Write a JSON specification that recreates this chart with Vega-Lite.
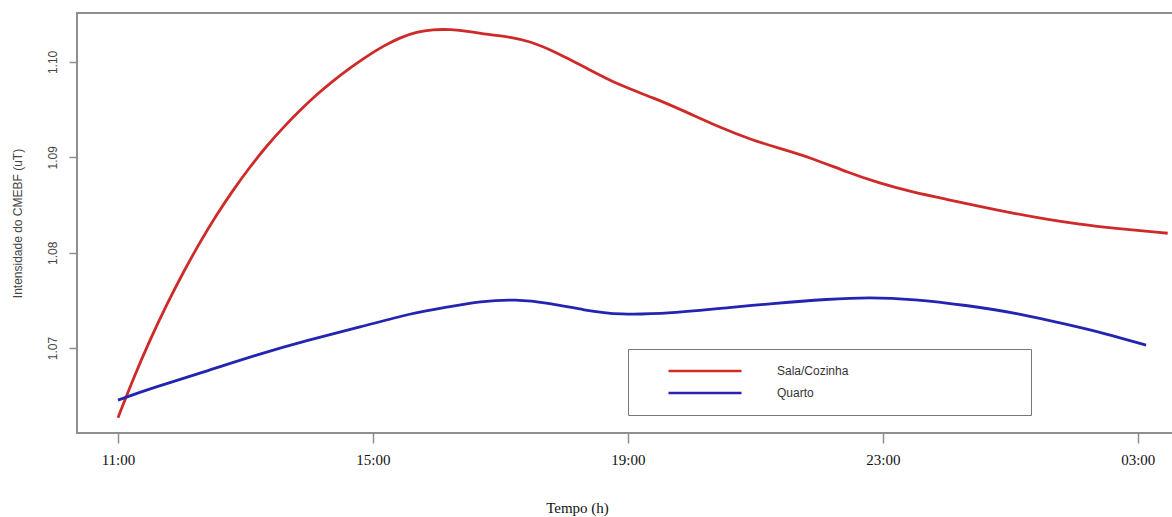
{
  "$schema": "https://vega.github.io/schema/vega-lite/v6.json",
  "width": 1099,
  "height": 420,
  "autosize": {"type": "none"},
  "padding": {"left": 77, "top": 13, "right": 0, "bottom": 84},
  "background": "white",
  "config": {
    "view": {"stroke": "#8f8f8f", "strokeWidth": 2},
    "axis": {"grid": false, "domain": false, "tickColor": "#8f8f8f", "tickWidth": 1.5}
  },
  "data": {
    "values": [
      {"hora": 11.0, "valor": 1.0627, "local": "Sala/Cozinha"},
      {"hora": 11.23, "valor": 1.06665, "local": "Sala/Cozinha"},
      {"hora": 11.5, "valor": 1.07085, "local": "Sala/Cozinha"},
      {"hora": 11.77, "valor": 1.07465, "local": "Sala/Cozinha"},
      {"hora": 12.02, "valor": 1.0779, "local": "Sala/Cozinha"},
      {"hora": 12.29, "valor": 1.08115, "local": "Sala/Cozinha"},
      {"hora": 12.55, "valor": 1.084, "local": "Sala/Cozinha"},
      {"hora": 12.8, "valor": 1.08652, "local": "Sala/Cozinha"},
      {"hora": 13.07, "valor": 1.089, "local": "Sala/Cozinha"},
      {"hora": 13.34, "valor": 1.09125, "local": "Sala/Cozinha"},
      {"hora": 13.59, "valor": 1.09312, "local": "Sala/Cozinha"},
      {"hora": 13.86, "valor": 1.09497, "local": "Sala/Cozinha"},
      {"hora": 14.12, "valor": 1.0966, "local": "Sala/Cozinha"},
      {"hora": 14.37, "valor": 1.098, "local": "Sala/Cozinha"},
      {"hora": 14.64, "valor": 1.09937, "local": "Sala/Cozinha"},
      {"hora": 14.91, "valor": 1.10062, "local": "Sala/Cozinha"},
      {"hora": 15.16, "valor": 1.10165, "local": "Sala/Cozinha"},
      {"hora": 15.42, "valor": 1.10255, "local": "Sala/Cozinha"},
      {"hora": 15.69, "valor": 1.10315, "local": "Sala/Cozinha"},
      {"hora": 15.94, "valor": 1.1034, "local": "Sala/Cozinha"},
      {"hora": 16.21, "valor": 1.10342, "local": "Sala/Cozinha"},
      {"hora": 16.52, "valor": 1.10319, "local": "Sala/Cozinha"},
      {"hora": 16.79, "valor": 1.10288, "local": "Sala/Cozinha"},
      {"hora": 17.2, "valor": 1.10257, "local": "Sala/Cozinha"},
      {"hora": 17.46, "valor": 1.10215, "local": "Sala/Cozinha"},
      {"hora": 17.82, "valor": 1.1012, "local": "Sala/Cozinha"},
      {"hora": 18.36, "valor": 1.09932, "local": "Sala/Cozinha"},
      {"hora": 18.87, "valor": 1.09754, "local": "Sala/Cozinha"},
      {"hora": 19.39, "valor": 1.09628, "local": "Sala/Cozinha"},
      {"hora": 19.93, "valor": 1.09471, "local": "Sala/Cozinha"},
      {"hora": 20.44, "valor": 1.09314, "local": "Sala/Cozinha"},
      {"hora": 20.96, "valor": 1.09178, "local": "Sala/Cozinha"},
      {"hora": 21.38, "valor": 1.09095, "local": "Sala/Cozinha"},
      {"hora": 21.9, "valor": 1.0899, "local": "Sala/Cozinha"},
      {"hora": 22.44, "valor": 1.08843, "local": "Sala/Cozinha"},
      {"hora": 22.95, "valor": 1.08728, "local": "Sala/Cozinha"},
      {"hora": 23.47, "valor": 1.08634, "local": "Sala/Cozinha"},
      {"hora": 24.0, "valor": 1.0856, "local": "Sala/Cozinha"},
      {"hora": 24.52, "valor": 1.08487, "local": "Sala/Cozinha"},
      {"hora": 25.04, "valor": 1.08414, "local": "Sala/Cozinha"},
      {"hora": 25.57, "valor": 1.08351, "local": "Sala/Cozinha"},
      {"hora": 26.09, "valor": 1.08298, "local": "Sala/Cozinha"},
      {"hora": 26.61, "valor": 1.08257, "local": "Sala/Cozinha"},
      {"hora": 27.47, "valor": 1.08204, "local": "Sala/Cozinha"},
      {"hora": 11.0, "valor": 1.06455, "local": "Quarto"},
      {"hora": 11.53, "valor": 1.06581, "local": "Quarto"},
      {"hora": 12.35, "valor": 1.06749, "local": "Quarto"},
      {"hora": 13.16, "valor": 1.06927, "local": "Quarto"},
      {"hora": 13.98, "valor": 1.07084, "local": "Quarto"},
      {"hora": 14.8, "valor": 1.0722, "local": "Quarto"},
      {"hora": 15.6, "valor": 1.07366, "local": "Quarto"},
      {"hora": 16.15, "valor": 1.07429, "local": "Quarto"},
      {"hora": 16.69, "valor": 1.07492, "local": "Quarto"},
      {"hora": 17.23, "valor": 1.07513, "local": "Quarto"},
      {"hora": 17.78, "valor": 1.07471, "local": "Quarto"},
      {"hora": 18.31, "valor": 1.07398, "local": "Quarto"},
      {"hora": 18.86, "valor": 1.07346, "local": "Quarto"},
      {"hora": 19.69, "valor": 1.07366, "local": "Quarto"},
      {"hora": 20.51, "valor": 1.07419, "local": "Quarto"},
      {"hora": 21.32, "valor": 1.07471, "local": "Quarto"},
      {"hora": 22.14, "valor": 1.07513, "local": "Quarto"},
      {"hora": 22.78, "valor": 1.07534, "local": "Quarto"},
      {"hora": 23.49, "valor": 1.07513, "local": "Quarto"},
      {"hora": 24.3, "valor": 1.0745, "local": "Quarto"},
      {"hora": 25.12, "valor": 1.07366, "local": "Quarto"},
      {"hora": 25.93, "valor": 1.07241, "local": "Quarto"},
      {"hora": 26.47, "valor": 1.07157, "local": "Quarto"},
      {"hora": 27.13, "valor": 1.07031, "local": "Quarto"}
    ]
  },
  "mark": {"type": "line", "interpolate": "basis", "strokeWidth": 2.8, "clip": true},
  "encoding": {
    "x": {
      "field": "hora",
      "type": "quantitative",
      "scale": {"domain": [10.357, 27.6], "nice": false, "zero": false},
      "axis": {
        "values": [11, 15, 19, 23, 27],
        "labelExpr": "pad(datum.value % 24, 2, '0', 'left') + ':00'",
        "tickSize": 10,
        "labelPadding": 16,
        "labelFont": "Liberation Serif",
        "labelFontSize": 15,
        "labelColor": "#111",
        "labelBaseline": "middle",
        "title": "Tempo (h)",
        "titleFont": "Liberation Serif",
        "titleFontSize": 15,
        "titleFontWeight": "normal",
        "titleColor": "#111",
        "titleX": 500,
        "titleY": 74,
        "titleAlign": "center",
        "titleBaseline": "middle"
      }
    },
    "y": {
      "field": "valor",
      "type": "quantitative",
      "scale": {"domain": [1.0611, 1.10513], "nice": false, "zero": false},
      "axis": {
        "values": [1.07, 1.08, 1.09, 1.1],
        "format": ".2f",
        "tickSize": 8,
        "labelPadding": 10,
        "labelAngle": 270,
        "labelAlign": "center",
        "labelBaseline": "bottom",
        "labelFont": "Liberation Sans",
        "labelFontSize": 12,
        "labelColor": "#444",
        "title": "Intensidade do CMEBF (uT)",
        "titleFont": "Liberation Sans",
        "titleFontSize": 12,
        "titleFontWeight": "normal",
        "titleColor": "#444",
        "titlePadding": 22
      }
    },
    "color": {
      "field": "local",
      "type": "nominal",
      "scale": {"domain": ["Sala/Cozinha", "Quarto"], "range": ["#cf2a2a", "#2424b0"]},
      "legend": {
        "title": null,
        "orient": "none",
        "legendX": 551,
        "legendY": 336,
        "strokeColor": "#777",
        "padding": 12,
        "clipHeight": 20,
        "symbolType": "stroke",
        "symbolSize": 5329,
        "symbolStrokeWidth": 2.5,
        "symbolOffset": 27,
        "labelOffset": 34,
        "labelFont": "Liberation Sans",
        "labelFontSize": 12,
        "labelColor": "#333",
        "labelLimit": 0,
        "labelExpr": "pad(datum.label, 63, '\u00a0', 'right') + '\u200b'"
      }
    }
  }
}
